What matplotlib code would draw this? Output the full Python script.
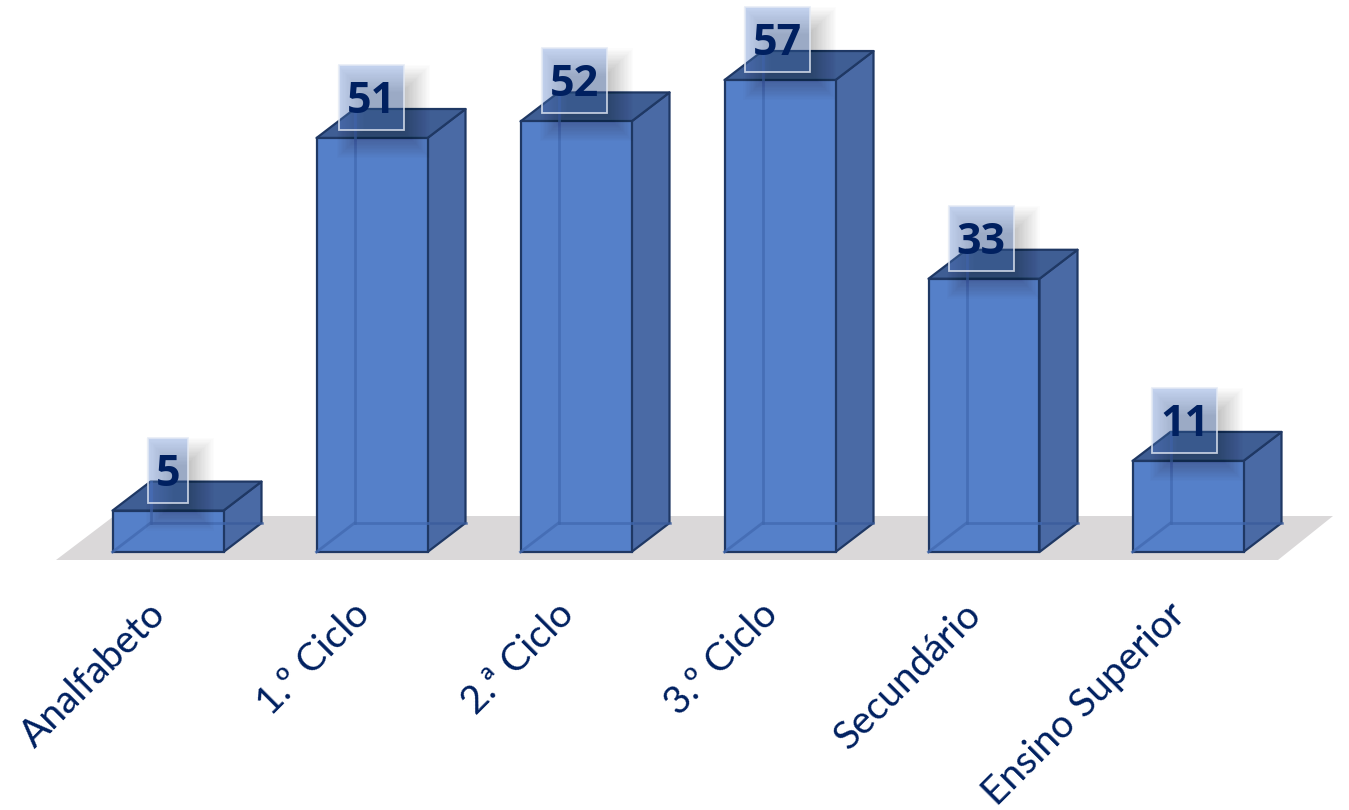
import matplotlib
matplotlib.use("Agg")
import matplotlib.pyplot as plt
from matplotlib.patches import Polygon, Rectangle
from matplotlib.transforms import Affine2D

categories = ["Analfabeto", "1.º Ciclo", "2.ª Ciclo", "3.º Ciclo", "Secundário", "Ensino Superior"]
value_labels = [5, 51, 52, 57, 33, 11]
bar_heights = [5, 50, 52, 57, 33, 11]   # drawn heights

W, H = 1349, 810
PX_PER_CAT = 204.0
PX_PER_VAL = 8.28
X0_PX, BASE_PX, AX_BOTTOM_PX = 168, 552, 560

fig = plt.figure(figsize=(W / 100, H / 100), dpi=100, facecolor="white")
ax = fig.add_axes([0, (H - AX_BOTTOM_PX) / H, 1, AX_BOTTOM_PX / H])
ax.set_xlim(-X0_PX / PX_PER_CAT, (W - X0_PX) / PX_PER_CAT)
ax.set_ylim(-(AX_BOTTOM_PX - BASE_PX) / PX_PER_VAL, BASE_PX / PX_PER_VAL)
for s in ax.spines.values():
    s.set_visible(False)
ax.set_yticks([])
ax.set_facecolor("none")

DX = 38 / PX_PER_CAT
DY = 29 / PX_PER_VAL
HALF = 55.5 / PX_PER_CAT
EDGE = "#1F3864"
INNER = "#4169B0"

# floor
fl_y0 = -8 / PX_PER_VAL
fl_y1 = 36 / PX_PER_VAL
ax.add_patch(Polygon([(-112 / PX_PER_CAT, fl_y0), (1110 / PX_PER_CAT, fl_y0),
                      (1165 / PX_PER_CAT, fl_y1), (-54 / PX_PER_CAT, fl_y1)],
                     closed=True, fc="#DAD8D9", ec="none", zorder=1))

for i, h in enumerate(bar_heights):
    l, r = i - HALF, i + HALF
    z = 2 + i * 0.01
    # side and top faces
    ax.add_patch(Polygon([(r, 0), (r + DX, DY), (r + DX, h + DY), (r, h)], closed=True,
                         fc="#4A6AA5", ec=EDGE, lw=1.6, joinstyle="round", zorder=z + 0.1))
    ax.add_patch(Polygon([(l, h), (l + DX, h + DY), (r + DX, h + DY), (r, h)], closed=True,
                         fc="#3F5E94", ec=EDGE, lw=1.6, joinstyle="round", zorder=z + 0.1))
    # front face
    ax.bar(i, h, width=2 * HALF, color="#5580C9", edgecolor=EDGE, linewidth=1.6, zorder=z + 0.2)
    # hidden edges seen through the front face
    ax.plot([l + DX, l + DX], [DY, h + DY], color=INNER, lw=2.0, alpha=0.75, zorder=z + 0.3)
    ax.plot([l + DX, r], [DY, DY], color=INNER, lw=2.0, alpha=0.75, zorder=z + 0.3)
    ax.plot([l, l + DX], [0, DY], color=INNER, lw=2.0, alpha=0.75, zorder=z + 0.3)
    ax.plot([r, r + DX], [DY, DY], color="#3A5C9C", lw=1.8, alpha=0.8, zorder=z + 0.15)

# value label boxes with a soft shadow
BOX_STEP = 203.3 / PX_PER_CAT
for i, (h, v) in enumerate(zip(bar_heights, value_labels)):
    bw = (40 if v < 10 else 65) / PX_PER_CAT
    bh = 65 / PX_PER_VAL
    cx = i * BOX_STEP
    bl = cx - bw / 2
    bb = h + 8 / PX_PER_VAL
    # shadow: stacked translucent rectangles approximating a blur
    steps = 22
    for k in range(steps):
        g = 14 - k * 1.3
        gx = g / PX_PER_CAT
        gy = g / PX_PER_VAL
        ax.add_patch(Rectangle((bl + 12 / PX_PER_CAT - gx, bb - 14 / PX_PER_VAL - gy),
                               bw + 2 * gx, bh + 2 * gy,
                               fc="black", ec="none", alpha=0.010, zorder=5 + i * 0.01))
    ax.add_patch(Rectangle((bl, bb), bw, bh, fc="#5A86D6", ec="none", alpha=0.34,
                           zorder=6 + i * 0.01))
    ax.add_patch(Rectangle((bl, bb), bw, bh, fc="none", ec="#E4EAF5", lw=1.3, alpha=0.8,
                           zorder=6.5 + i * 0.01))
    ax.text(cx, bb + bh / 2 - 4 / PX_PER_VAL, str(v), ha="center", va="center", family="Open Sans",
            fontweight="bold", fontsize=31, color="#002060", zorder=7)

ax.set_xticks(range(len(categories)))
ax.set_xticklabels(categories, rotation=45, ha="right", va="top", rotation_mode="anchor",
                   family="Lato", fontsize=28, color="#002060")
ax.tick_params(axis="x", length=0, pad=26)
for lab in ax.get_xticklabels():
    lab.set_transform(lab.get_transform() + Affine2D().translate(-21, 0))

fig.savefig("out.png", dpi=100, facecolor="white")
